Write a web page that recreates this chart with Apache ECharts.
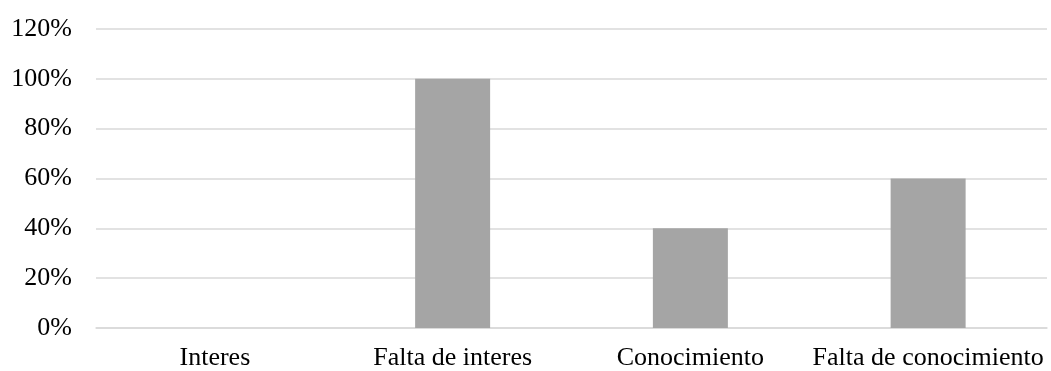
<!DOCTYPE html>
<html>
<head>
<meta charset="utf-8">
<script src="https://cdn.jsdelivr.net/npm/echarts@6/dist/echarts.min.js"></script>
<style>
  html, body { margin: 0; padding: 0; background: #fff; }
  #chart { width: 1051px; height: 371px; }
</style>
</head>
<body>
<div id="chart"></div>
<script>
// Categories and their percentages
const categories = ['Interes', 'Falta de interes', 'Conocimiento', 'Falta de conocimiento'];
const percentages = [0, 100, 40, 60];

const chart = echarts.init(document.getElementById('chart'), null, { renderer: 'canvas' });
const font = '"Liberation Serif", "Times New Roman", serif';

chart.setOption({
  animation: false,
  backgroundColor: '#ffffff',
  grid: { left: 96, right: 4, top: 29, bottom: 43, containLabel: false },
  xAxis: {
    type: 'category',
    data: categories,
    axisLine: { show: true, lineStyle: { color: '#d9d9d9', width: 1.5 } },
    axisTick: { show: false },
    axisLabel: {
      color: '#000', fontFamily: font, fontSize: 26, margin: 17,
      interval: 0, hideOverlap: false
    }
  },
  yAxis: {
    type: 'value',
    min: 0,
    max: 120,
    interval: 20,
    axisLine: { show: false },
    axisTick: { show: false },
    splitLine: { lineStyle: { color: '#d9d9d9', width: 1.5 } },
    axisLabel: { color: '#000', fontFamily: font, fontSize: 26, margin: 24, formatter: '{value}%' }
  },
  series: [{
    type: 'bar',
    data: percentages,
    barWidth: 75,
    itemStyle: { color: '#a5a5a5' }
  }]
});
</script>
</body>
</html>
